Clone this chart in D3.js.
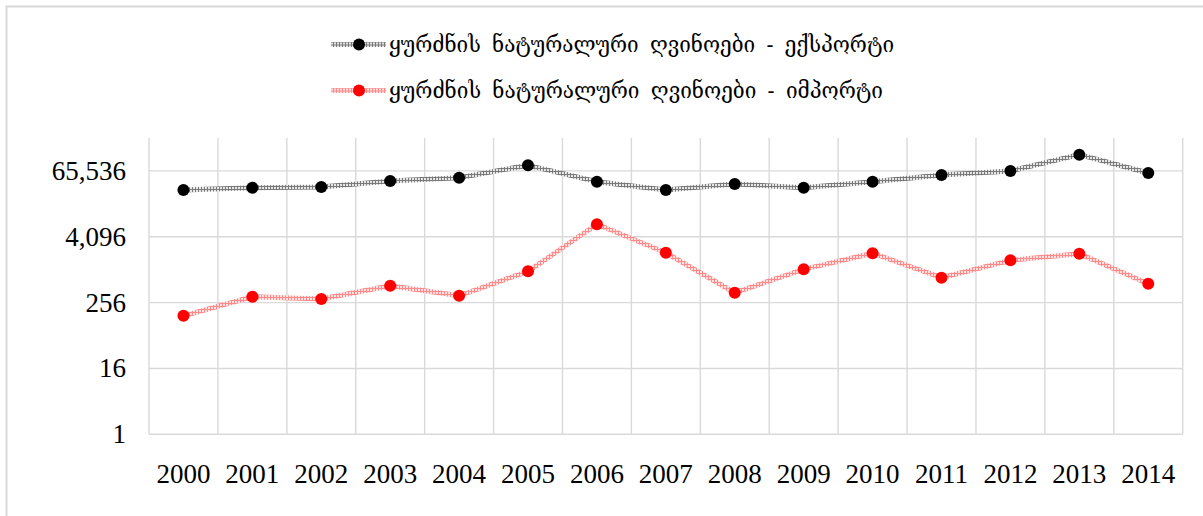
<!DOCTYPE html>
<html>
<head>
<meta charset="utf-8">
<script src="https://cdn.jsdelivr.net/npm/d3@7"></script>
<style>
  body { margin: 0; background: #fff; }
  svg { display: block; }
</style>
</head>
<body>
<svg id="chart" width="1203" height="516"></svg>
<script>
//Data
const years = ["2000", "2001", "2002", "2003", "2004", "2005", "2006", "2007", "2008", "2009", "2010", "2011", "2012", "2013", "2014"];
const exportValues = [29300, 32300, 33200, 42900, 49300, 83000, 41700, 29300, 37900, 32300, 41700, 55200, 65500, 130000, 60000];
const importValues = [147, 328, 298, 522, 342, 955, 6930, 2090, 388, 1040, 2048, 730, 1520, 2010, 568];
const yTicks = [1, 16, 256, 4096, 65536];
const seriesNames = [
  "ყურძნის ნატურალური ღვინოები - ექსპორტი",
  "ყურძნის ნატურალური ღვინოები - იმპორტი",
];

const width = 1203, height = 516;
const plot = { left: 149, right: 1182.7, top: 138, bottom: 434.3 };
const gridCol = "#d9d9d9";

var svg = d3.select("#chart");

//outer frame of the chart area
svg.append("rect")
  .attr("x", 6.5).attr("y", 6.5)
  .attr("width", 1220).attr("height", 530)
  .attr("fill", "#fff")
  .attr("stroke", gridCol)
  .attr("stroke-width", 2);

//patterns for the hatched line strokes
var defs = svg.append("defs");
function makePattern(id, light, dark) {
  var p = defs.append("pattern")
    .attr("id", id)
    .attr("patternUnits", "userSpaceOnUse")
    .attr("width", 3).attr("height", 3);
  p.append("rect").attr("width", 3).attr("height", 3).attr("fill", light);
  p.append("rect").attr("width", 3).attr("height", 1).attr("fill", dark);
  p.append("rect").attr("width", 1).attr("height", 3).attr("fill", dark);
}
makePattern("patBlack", "#e6e6e6", "#7a7a7a");
makePattern("patRed", "#ffe0e0", "#ff8a8a");

//scales
const x = d3.scaleBand().domain(years).range([plot.left, plot.right]);
const y = d3.scaleLog().base(2).domain([1, 262144]).range([plot.bottom, plot.top]);

//horizontal gridlines
svg.append("g")
  .selectAll("line")
  .data(yTicks)
  .join("line")
  .attr("x1", plot.left).attr("x2", plot.right)
  .attr("y1", (d) => y(d)).attr("y2", (d) => y(d))
  .attr("stroke", gridCol)
  .attr("stroke-width", 1.4);

//vertical gridlines (category boundaries)
const bounds = years.map((d) => x(d)).concat([plot.right]);
svg.append("g")
  .selectAll("line")
  .data(bounds)
  .join("line")
  .attr("x1", (d) => d).attr("x2", (d) => d)
  .attr("y1", plot.top).attr("y2", plot.bottom)
  .attr("stroke", gridCol)
  .attr("stroke-width", 1.4);

//y axis labels
const fmt = d3.format(",");
svg.append("g")
  .selectAll("text")
  .data(yTicks)
  .join("text")
  .attr("x", 126)
  .attr("y", (d) => y(d))
  .attr("dy", "0.33em")
  .attr("text-anchor", "end")
  .style("font-family", "'Liberation Serif', 'Times New Roman', serif")
  .style("font-size", "27px")
  .attr("fill", "#000")
  .text((d) => fmt(d));

//x axis labels
svg.append("g")
  .selectAll("text")
  .data(years)
  .join("text")
  .attr("x", (d) => x(d) + x.bandwidth() / 2)
  .attr("y", 483)
  .attr("text-anchor", "middle")
  .style("font-family", "'Liberation Serif', 'Times New Roman', serif")
  .style("font-size", "27px")
  .attr("fill", "#000")
  .text((d) => d);

//series lines and markers
const series = [
  { values: exportValues, pattern: "url(#patBlack)", dot: "#000000" },
  { values: importValues, pattern: "url(#patRed)", dot: "#ff0000" },
];

const line = d3.line()
  .x((d, i) => x(years[i]) + x.bandwidth() / 2)
  .y((d) => y(d));

series.forEach(function (s) {
  svg.append("path")
    .datum(s.values)
    .attr("d", line)
    .attr("fill", "none")
    .attr("stroke", s.pattern)
    .attr("stroke-width", 5)
    .attr("stroke-linejoin", "round");

  svg.append("g")
    .selectAll("circle")
    .data(s.values)
    .join("circle")
    .attr("cx", (d, i) => x(years[i]) + x.bandwidth() / 2)
    .attr("cy", (d) => y(d))
    .attr("r", 6)
    .attr("fill", s.dot);
});

//legend
const legendY = [44.5, 90.5];
series.forEach(function (s, i) {
  var g = svg.append("g").attr("transform", `translate(0,${legendY[i]})`);
  g.append("line")
    .attr("x1", 331).attr("x2", 386)
    .attr("y1", 0).attr("y2", 0)
    .attr("stroke", s.pattern)
    .attr("stroke-width", 5);
  g.append("circle")
    .attr("cx", 359).attr("cy", 0).attr("r", 6)
    .attr("fill", s.dot);
  var t = g.append("text")
    .attr("x", 389)
    .attr("y", 0)
    .attr("dy", "0.35em")
    .style("font-family", "'DejaVu Serif', 'DejaVu Sans', serif")
    .style("font-size", "22px")
    .style("word-spacing", "5px")
    .attr("fill", "#000")
    .text(seriesNames[i]);
  //stretch text to the width seen in the reference
  var target = i === 0 ? 505 : 494;
  t.attr("textLength", target).attr("lengthAdjust", "spacingAndGlyphs");
});
</script>
</body>
</html>
